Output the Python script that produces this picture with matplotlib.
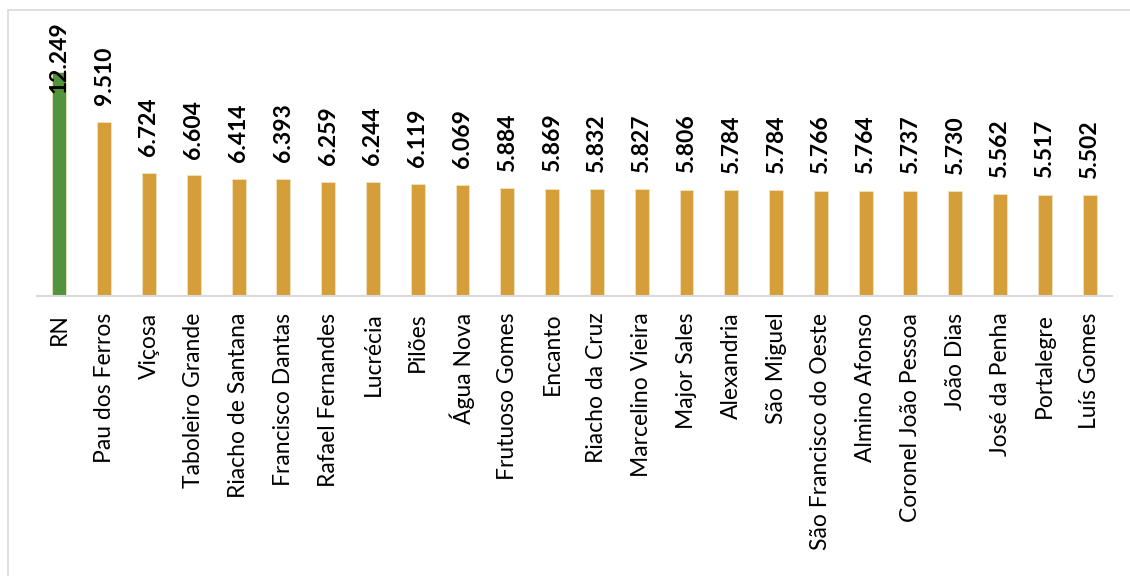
import matplotlib.pyplot as plt
from matplotlib.patches import Rectangle

cidades = ["RN", "Pau dos Ferros", "Viçosa", "Taboleiro Grande", "Riacho de Santana",
           "Francisco Dantas", "Rafael Fernandes", "Lucrécia", "Pilões", "Água Nova",
           "Frutuoso Gomes", "Encanto", "Riacho da Cruz", "Marcelino Vieira",
           "Major Sales", "Alexandria", "São Miguel", "São Francisco do Oeste",
           "Almino Afonso", "Coronel João Pessoa", "João Dias", "José da Penha",
           "Portalegre", "Luís Gomes"]
valores = [12.249, 9.510, 6.724, 6.604, 6.414, 6.393, 6.259, 6.244, 6.119, 6.069,
           5.884, 5.869, 5.832, 5.827, 5.806, 5.784, 5.784, 5.766, 5.764, 5.737,
           5.730, 5.562, 5.517, 5.502]
rotulos = ["12.249", "9.510", "6.724", "6.604", "6.414", "6.393", "6.259", "6.244",
           "6.119", "6.069", "5.884", "5.869", "5.832", "5.827", "5.806", "5.784",
           "5.784", "5.766", "5.764", "5.737", "5.730", "5.562", "5.517", "5.502"]

plt.rcParams["font.family"] = ["Lato", "DejaVu Sans"]

fig = plt.figure(figsize=(11.3, 5.76), dpi=100)
fig.patches.append(Rectangle((8 / 1130, -0.1), 1.2, 1 - 10 / 576 + 0.1,
                             transform=fig.transFigure, fill=False,
                             edgecolor="#D9D9D9", linewidth=1.2))

ax = fig.add_axes([37 / 1130, 280 / 576, 1075 / 1130, 278 / 576])

cores = ["#52943E"] + ["#D69E38"] * (len(valores) - 1)
x = list(range(len(cidades)))
ax.bar(x, valores, width=0.31, color=cores, edgecolor="#F3E3C0", linewidth=0.6)

ymax = 15.2
ax.set_xlim(-0.5, len(cidades) - 0.5)
ax.set_ylim(0, ymax)

# rotulos de dados (o maior fica preso dentro da area do grafico)
for xi, v, t in zip(x, valores, rotulos):
    ypos = min(v, ymax - 5.0)
    ax.annotate(t, (xi, ypos), xytext=(0, 12), textcoords="offset points",
                rotation=90, ha="center", va="bottom", fontsize=16.5,
                fontweight="bold", color="black")

ax.set_xticks(x)
ax.set_xticklabels(cidades, rotation=90, fontsize=16.5, color="black")
ax.tick_params(axis="x", length=0, pad=12)
ax.set_yticks([])

for s in ["top", "right", "left"]:
    ax.spines[s].set_visible(False)
ax.spines["bottom"].set_color("#D9D9D9")
ax.spines["bottom"].set_linewidth(1.5)

fig.savefig("out.png", dpi=100)
